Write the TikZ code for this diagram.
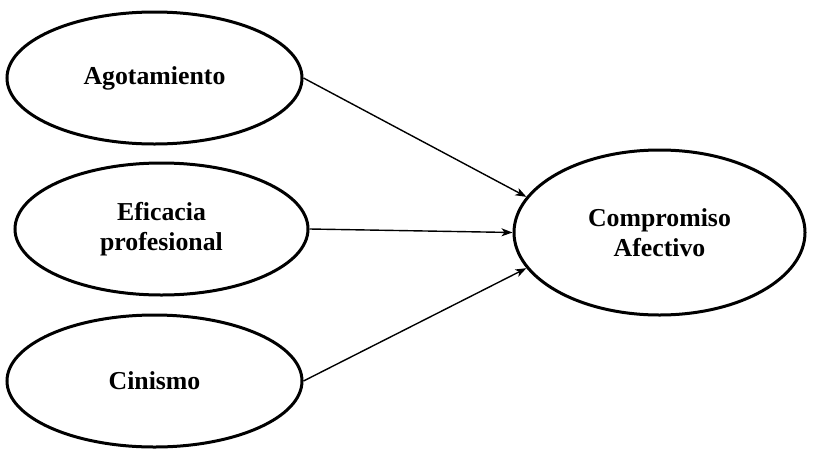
\documentclass[tikz,border=0pt]{standalone}
\usepackage{fontspec}
\setmainfont{Liberation Serif}
\usetikzlibrary{shapes.geometric,arrows.meta}
\begin{document}
\begin{tikzpicture}[x=1pt,y=-1pt,
  var/.style={ellipse,draw,line width=3pt,inner sep=0pt,align=center,
    font=\bfseries\fontsize{25.8}{30}\selectfont},
  conn/.style={line width=1.4pt,-{Stealth[length=11pt,width=8pt,inset=3pt]}}]
\useasboundingbox (0,0) rectangle (813,461);
\node[var,minimum width=295pt,minimum height=132pt] (ago) at (154.5,78) {Agotamiento};
\node[var,minimum width=293pt,minimum height=132pt] (efi) at (161.5,229) {Eficacia\\profesional};
\node[var,minimum width=295pt,minimum height=132pt] (cin) at (154.5,381) {Cinismo};
\node[var,minimum width=291pt,minimum height=165pt] (com) at (659.5,232.5) {Compromiso\\Afectivo};
\draw[conn] (ago.east) -- (com.165);
\draw[conn] (efi.east) -- (com.180);
\draw[conn] (cin.east) -- (com.195);
\end{tikzpicture}
\end{document}
